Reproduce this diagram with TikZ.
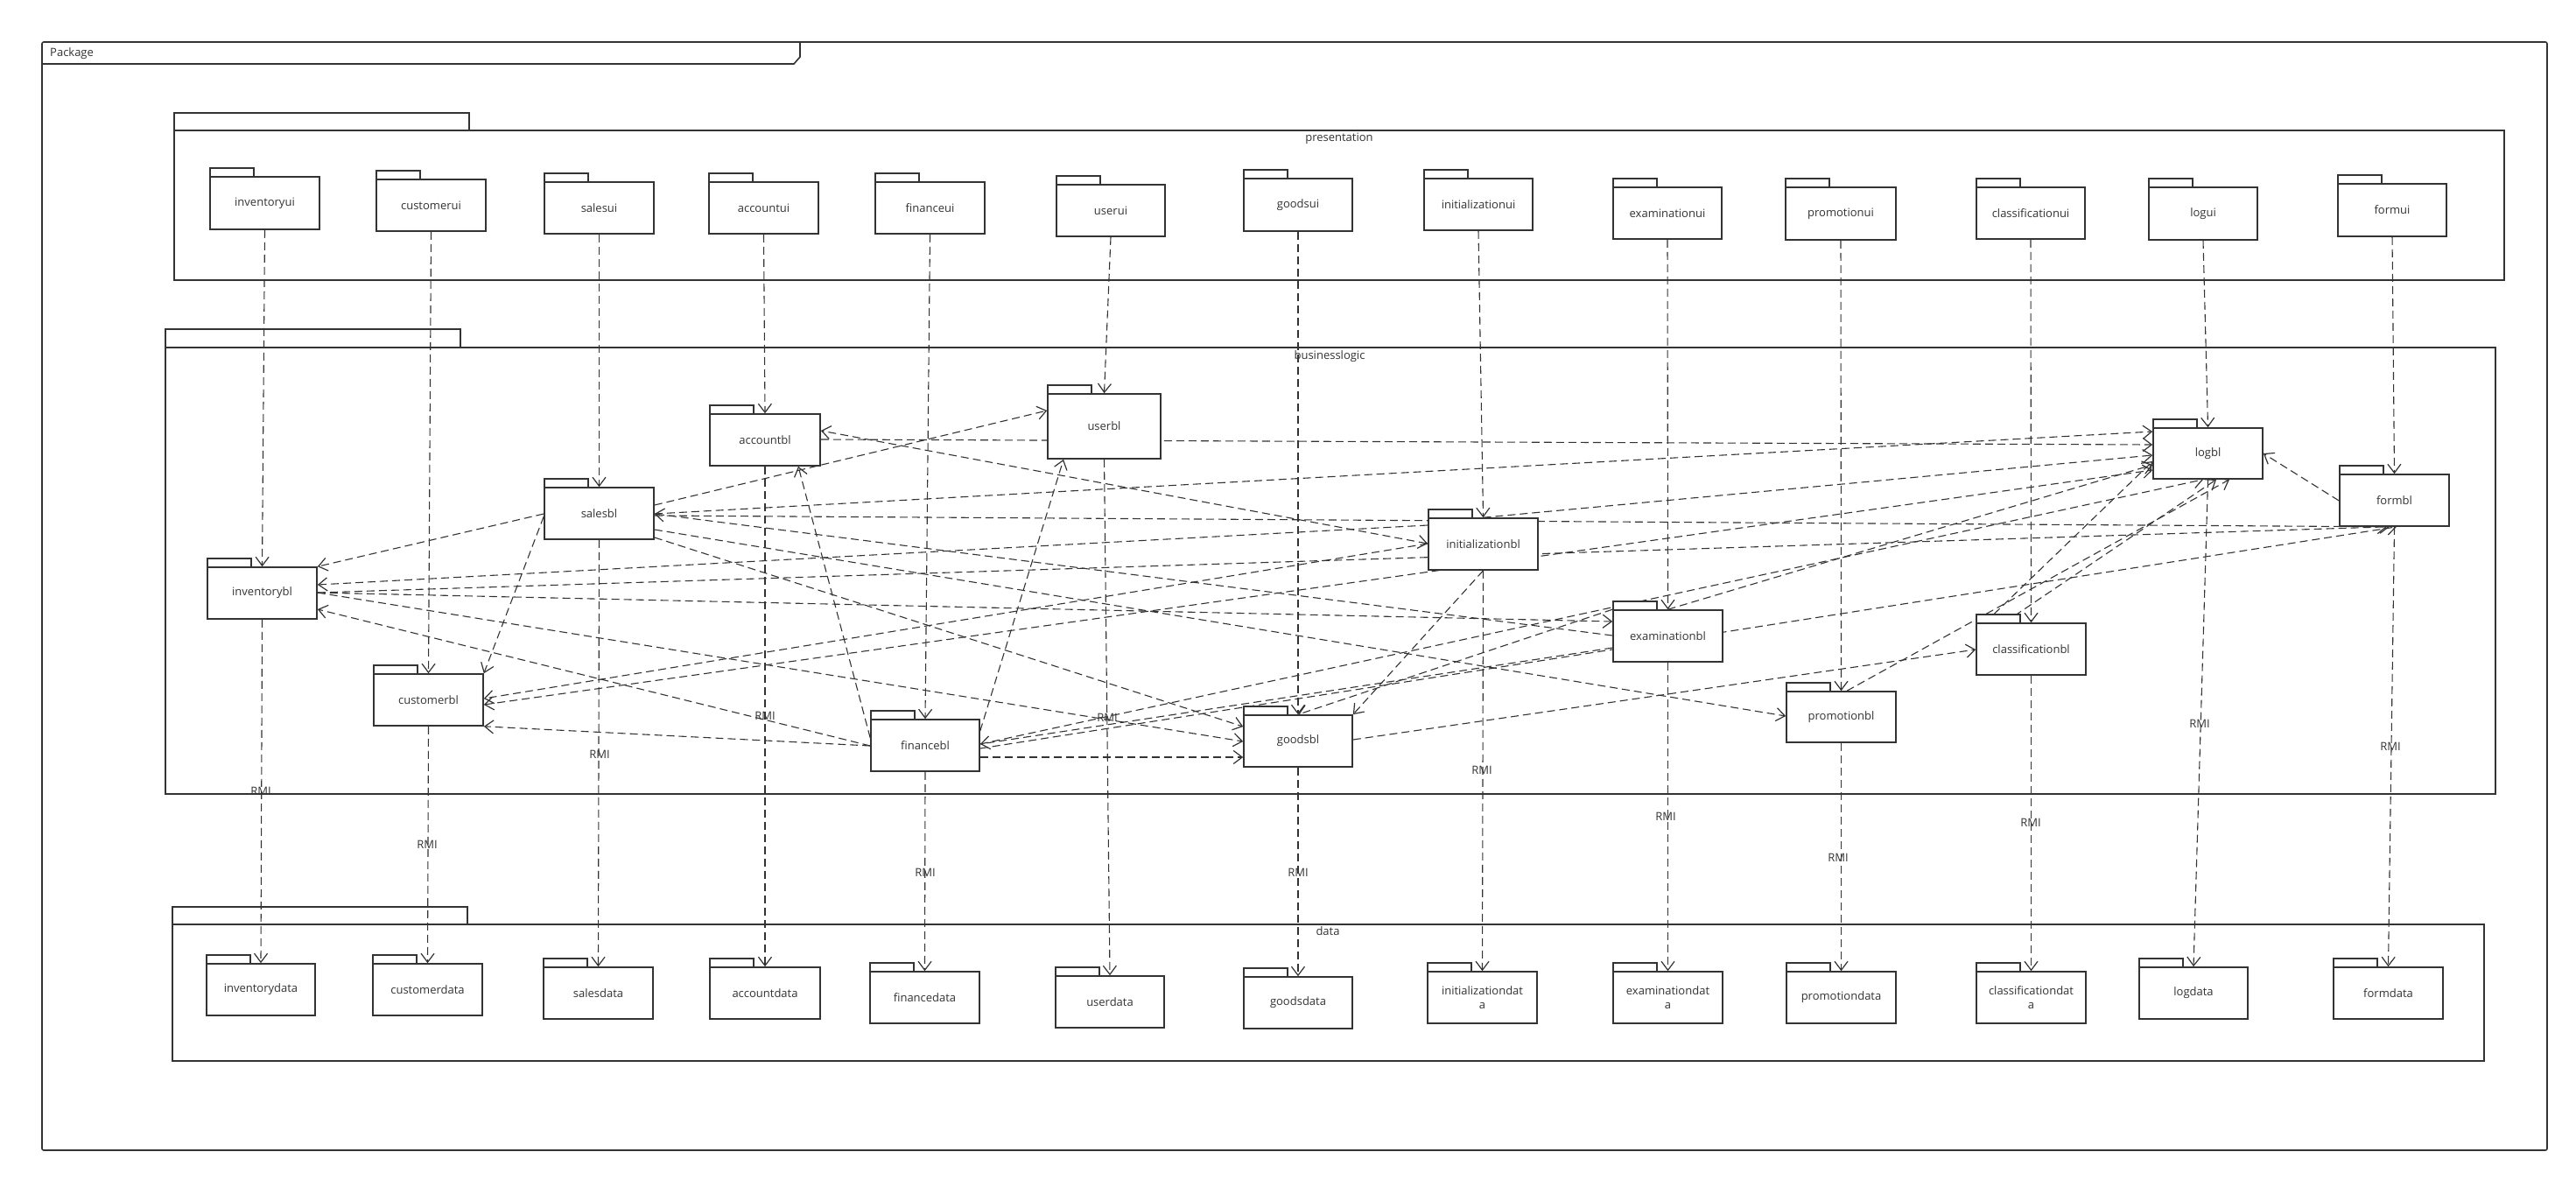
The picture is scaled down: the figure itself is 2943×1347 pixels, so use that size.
\documentclass[tikz,border=0pt]{standalone}
\usepackage{fontspec}
\setmainfont{Open Sans}
\usetikzlibrary{arrows.meta,calc}
\definecolor{ink}{HTML}{333333}
\pgfdeclarelayer{paper}
\pgfdeclarelayer{links}
\pgfsetlayers{paper,links,main}
\tikzset{
  frameline/.style={draw=ink, line width=1.6pt},
  pkgtab/.style={draw=ink, line width=1.6pt, fill=white},
  pkgbody/.style={draw=ink, line width=1.6pt, fill=white, inner sep=2pt, align=center,
    font=\fontsize{13}{16}\selectfont, text=ink},
  dep/.style={draw=ink, line width=1.1pt, dash pattern=on 9pt off 5pt},
  lbl/.style={font=\fontsize{13}{16}\selectfont, text=ink, inner sep=0pt},
}
% \pkg{name}{left}{top}{right}{bottom}{text}: UML package icon (tab + body)
\newcommand\pkg[6]{%
  \path[pkgtab] (#2,#3-10) rectangle (#2+50,#3);
  \node[pkgbody, minimum width={(#4-#2)*1pt}, minimum height={(#5-#3)*1pt}]
    (#1) at ({(#2+#4)/2},{(#3+#5)/2}) {#6};
}
\begin{document}
\begin{tikzpicture}[x=1pt,y=-1pt,>={Straight Barb[length=10pt,width=15pt,line width=1.2pt]}]
\useasboundingbox (0,0) rectangle (2943,1347);
\begin{pgfonlayer}{paper}
\fill[white] (0,0) rectangle (2943,1347);
\end{pgfonlayer}

% outer frame
\draw[frameline, rounded corners=2pt] (48,48) rectangle (2910,1314);
\draw[frameline] (48,73) -- (907,73) -- (914,65) -- (914,48);
\node[lbl, anchor=west] (frame-title) at (57,61) {Package};

% layer packages
\draw[frameline] (199,129) rectangle (536,149);
\draw[frameline] (199,149) rectangle (2861,320);
\node[lbl] (presentation-title) at (1530,158) {presentation};

\draw[frameline] (189,376) rectangle (526,397);
\draw[frameline] (189,397) rectangle (2851,907);
\node[lbl] (businesslogic-title) at (1519,407) {businesslogic};

\draw[frameline] (197,1036) rectangle (534,1056);
\draw[frameline] (197,1056) rectangle (2838,1212);
\node[lbl] (data-title) at (1517,1064) {data};

% presentation layer
\pkg{inventory-ui}{240}{202}{365}{262}{inventoryui}
\pkg{customer-ui}{430}{205}{555}{264}{customerui}
\pkg{sales-ui}{622}{208}{747}{267}{salesui}
\pkg{account-ui}{810}{208}{935}{267}{accountui}
\pkg{finance-ui}{1000}{208}{1125}{267}{financeui}
\pkg{user-ui}{1207}{211}{1331}{270}{userui}
\pkg{goods-ui}{1421}{204}{1545}{264}{goodsui}
\pkg{initialization-ui}{1627}{204}{1751}{263}{initializationui}
\pkg{examination-ui}{1843}{214}{1967}{273}{examinationui}
\pkg{promotion-ui}{2040}{214}{2166}{274}{promotionui}
\pkg{classification-ui}{2258}{214}{2382}{273}{classificationui}
\pkg{log-ui}{2455}{214}{2579}{274}{logui}
\pkg{form-ui}{2671}{210}{2795}{270}{formui}

% business logic layer
\pkg{inventory-bl}{237}{648}{362}{707}{inventorybl}
\pkg{customer-bl}{427}{770}{552}{829}{customerbl}
\pkg{sales-bl}{622}{557}{747}{616}{salesbl}
\pkg{account-bl}{811}{473}{937}{532}{accountbl}
\pkg{finance-bl}{995}{822}{1119}{881}{financebl}
\pkg{user-bl}{1197}{450}{1326}{524}{userbl}
\pkg{goods-bl}{1421}{817}{1545}{876}{goodsbl}
\pkg{initialization-bl}{1632}{592}{1757}{651}{initializationbl}
\pkg{examination-bl}{1843}{697}{1968}{756}{examinationbl}
\pkg{promotion-bl}{2041}{790}{2166}{848}{promotionbl}
\pkg{classification-bl}{2258}{712}{2383}{771}{classificationbl}
\pkg{log-bl}{2460}{489}{2585}{547}{logbl}
\pkg{form-bl}{2673}{542}{2798}{601}{formbl}

% data layer
\pkg{inventory-data}{236}{1101}{360}{1160}{inventorydata}
\pkg{customer-data}{426}{1101}{551}{1160}{customerdata}
\pkg{sales-data}{621}{1105}{746}{1164}{salesdata}
\pkg{account-data}{811}{1105}{937}{1164}{accountdata}
\pkg{finance-data}{994}{1110}{1119}{1169}{financedata}
\pkg{user-data}{1206}{1115}{1330}{1174}{userdata}
\pkg{goods-data}{1421}{1116}{1545}{1175}{goodsdata}
\pkg{initialization-data}{1631}{1110}{1756}{1169}{initializationdat\\a}
\pkg{examination-data}{1843}{1110}{1968}{1169}{examinationdat\\a}
\pkg{promotion-data}{2041}{1110}{2166}{1169}{promotiondata}
\pkg{classification-data}{2258}{1110}{2383}{1169}{classificationdat\\a}
\pkg{log-data}{2444}{1105}{2568}{1164}{logdata}
\pkg{form-data}{2666}{1105}{2791}{1164}{formdata}

% RMI labels on the data-access dependencies
\foreach \n/\x/\y in {inventory/298/904, customer/488/965, sales/685/862,
    account/874/818, finance/1057/997, user/1265/820, goods/1483/997,
    initialization/1693/880, examination/1903/933, promotion/2100/980,
    classification/2320/940, log/2513/827, form/2731/853}
  \node[lbl] (rmi-\n) at (\x,\y) {RMI};

\begin{pgfonlayer}{links}
% ui -> bl -> data
\foreach \n in {inventory,customer,sales,account,finance,user,goods,
    initialization,examination,promotion,classification,log,form}{
  \draw[dep,->] (\n-ui.south) -- (\n-bl.north);
  \draw[dep,->] (\n-bl.south) -- (\n-data.north);
}

% dependencies inside the business logic layer
\draw[dep,->] (sales-bl.west |- 0,587) -- (inventory-bl.north east);
\draw[dep,->] (sales-bl.west |- 0,590) -- (customer-bl.north east);
\draw[dep,->] (sales-bl.east |- 0,577) -- (user-bl.west |- 0,469);
\draw[dep,->] (sales-bl.east |- 0,587) -- (log-bl.west |- 0,493);
\draw[dep,->] (sales-bl.east |- 0,589) -- (form-bl.south -| 2730,0);
\draw[dep,->] (sales-bl.east |- 0,614) -- (goods-bl.west |- 0,830);
\draw[dep,->] (sales-bl.east |- 0,605) -- (promotion-bl.west |- 0,818);
\draw[dep,->] (examination-bl.west |- 0,726) -- (sales-bl.east |- 0,587);

\draw[dep,->] (account-bl.east |- 0,502) -- (log-bl.west |- 0,508);
\draw[dep,<->] (initialization-bl.west |- 0,621) -- (account-bl.east |- 0,492);

\draw[dep,->] (inventory-bl.east |- 0,677) -- (examination-bl.west |- 0,710);
\draw[dep,->] (inventory-bl.east |- 0,677) -- (form-bl.south -| 2727,0);
\draw[dep,->] (inventory-bl.east |- 0,677) -- (goods-bl.west |- 0,847);
\draw[dep,->] (initialization-bl.west |- 0,600) -- (inventory-bl.east |- 0,668);

\draw[dep,->] (finance-bl.west |- 0,852) -- (inventory-bl.east |- 0,696);
\draw[dep,->] (finance-bl.west |- 0,852) -- (customer-bl.south east);
\draw[dep,->] (finance-bl.west |- 0,843) -- (account-bl.south -| 912,0);
\draw[dep,->] (finance-bl.east |- 0,835) -- (user-bl.south -| 1215,0);
\draw[dep,->] (finance-bl.east |- 0,865) -- (goods-bl.west |- 0,865);
\draw[dep,->] (finance-bl.east |- 0,850) -- (log-bl.south -| 2517,0);
\draw[dep,->] (finance-bl.east |- 0,855) -- (form-bl.south -| 2738,0);
\draw[dep,->] (examination-bl.west |- 0,740) -- (finance-bl.east |- 0,850);

\draw[dep,->] (initialization-bl.west |- 0,621) -- (customer-bl.east |- 0,798);
\draw[dep,<->] (customer-bl.east |- 0,805) -- (log-bl.west |- 0,537);

\draw[dep,->] (examination-bl.north west) -- (goods-bl.north);
\draw[dep,->] (examination-bl.north) -- (log-bl.west |- 0,531);
\draw[dep,->] (goods-bl.east |- 0,845) -- (classification-bl.west |- 0,742);
\draw[dep,->] (initialization-bl.south) -- (goods-bl.north east);
\draw[dep,->] (initialization-bl.north) -- (log-bl.west |- 0,520);

\draw[dep,->] (promotion-bl.north -| 2110,0) -- (log-bl.south -| 2547,0);
\draw[dep,->] (classification-bl.north -| 2268,0) -- (log-bl.west |- 0,527);
\draw[dep,->] (classification-bl.north -| 2290,0) -- (log-bl.south -| 2532,0);
\draw[dep,->] (form-bl.west |- 0,572) -- (log-bl.east |- 0,518);
\end{pgfonlayer}
\end{tikzpicture}
\end{document}
